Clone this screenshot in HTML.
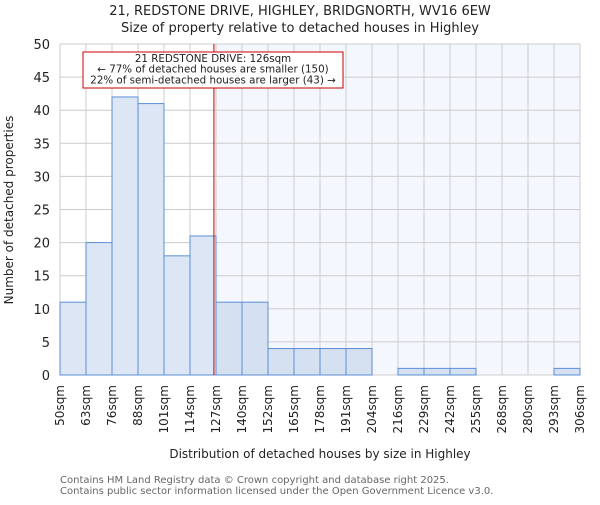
<!DOCTYPE html>
<html><head><meta charset="utf-8"><style>
body{margin:0;background:#fff;font-family:"Liberation Sans","DejaVu Sans",sans-serif;}
svg text{font-family:"DejaVu Sans","Liberation Sans",sans-serif;}
</style></head><body>
<svg id="chart" width="600" height="500" xmlns="http://www.w3.org/2000/svg">
<text x="300" y="15" text-anchor="middle" font-size="13" fill="#222">21, REDSTONE DRIVE, HIGHLEY, BRIDGNORTH, WV16 6EW</text>
<text x="300" y="32" text-anchor="middle" font-size="13" fill="#222">Size of property relative to detached houses in Highley</text>
<g id="plot"></g>
<text transform="translate(13,210) rotate(-90)" text-anchor="middle" font-size="12" fill="#222">Number of detached properties</text>
<text x="320" y="458" text-anchor="middle" font-size="12" fill="#222">Distribution of detached houses by size in Highley</text>
<text x="60" y="483" font-size="10" fill="#666">Contains HM Land Registry data © Crown copyright and database right 2025.</text>
<text x="60" y="494" font-size="10" fill="#666">Contains public sector information licensed under the Open Government Licence v3.0.</text>
</svg>
<script>
const binLabels=["50sqm","63sqm","76sqm","88sqm","101sqm","114sqm","127sqm","140sqm","152sqm","165sqm","178sqm","191sqm","204sqm","216sqm","229sqm","242sqm","255sqm","268sqm","280sqm","293sqm","306sqm"];
const counts=[11,20,42,41,18,21,11,11,4,4,4,4,0,1,1,1,0,0,0,1];
const yTicks=[0,5,10,15,20,25,30,35,40,45,50];
const propertyIndex=5.92;
const NS="http://www.w3.org/2000/svg";
const L=60,R=580,T=44,B=375,yMax=50;
const n=counts.length;
const x=i=>L+(R-L)*i/n;
const y=v=>B-(B-T)*v/yMax;
const g=document.getElementById('plot');
function mk(t,a){const e=document.createElementNS(NS,t);for(const k in a)e.setAttribute(k,a[k]);g.appendChild(e);return e;}
const px=x(propertyIndex);
let sh=mk('rect',{x:px,y:T,width:R-px,height:B-T,fill:'#f4f7fd'});


for(let i=0;i<=n;i++){let l=mk('line',{x1:x(i),x2:x(i),y1:T,y2:B,stroke:'#cccccc','stroke-width':1});

}
yTicks.forEach(v=>{let l=mk('line',{x1:L,x2:R,y1:y(v),y2:y(v),stroke:'#cccccc','stroke-width':1});


let t=mk('text',{x:L-10,y:y(v)+5,'text-anchor':'end','font-size':13,fill:'#222'});t.textContent=v;

});
counts.forEach((c,i)=>{if(c<=0)return;let r=mk('rect',{x:x(i),y:y(c),width:x(i+1)-x(i),height:B-y(c),fill:i>=6?'#d5e0f1':'#dce6f4',stroke:'#5b8fd6','stroke-width':1});

});
binLabels.forEach((s,i)=>{let t=mk('text',{transform:`translate(${x(i)+4},385) rotate(-90)`,'text-anchor':'end','font-size':12,fill:'#222'});t.textContent=s;

});
let rl=mk('line',{x1:px,x2:px,y1:T,y2:B,stroke:'#cc0000','stroke-width':1});


let box=mk('rect',{x:83,y:52,width:260,height:36,fill:'#fff',stroke:'#cc0000','stroke-width':1});


["21 REDSTONE DRIVE: 126sqm","← 77% of detached houses are smaller (150)","22% of semi-detached houses are larger (43) →"].forEach((s,k)=>{let t=mk('text',{x:213,y:62+k*10.7,'text-anchor':'middle','font-size':10.3,fill:'#222'});t.textContent=s;

});
</script>
</body></html>
